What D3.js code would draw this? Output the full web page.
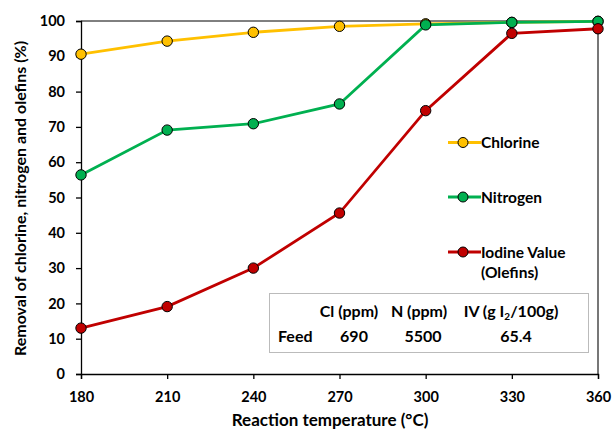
<!DOCTYPE html>
<html>
<head>
<meta charset="utf-8">
<script src="https://cdn.jsdelivr.net/npm/d3@7"></script>
<style>
  body { margin: 0; background: #fff; }
  svg text { font-family: Lato, "Open Sans", sans-serif; font-weight: bold; fill: #000; }
</style>
</head>
<body>
<svg id="chart"></svg>
<script>
const width = 615;
const height = 429;

// data
const temps = [180, 210, 240, 270, 300, 330, 360];
const chlorine = [90.6, 94.3, 96.8, 98.5, 99.2, 99.6, 99.9];
const nitrogen = [56.4, 69.1, 70.9, 76.5, 98.9, 99.6, 99.9];
const iodine = [13.0, 19.1, 30.0, 45.6, 74.6, 96.5, 97.8];
const seriesNames = ["Chlorine", "Nitrogen", "Iodine Value"];
const seriesColors = ["#FFC000", "#00B050", "#C00000"];
const xTicks = [180, 210, 240, 270, 300, 330, 360];
const yTicks = [0, 10, 20, 30, 40, 50, 60, 70, 80, 90, 100];
const tableHead = ["Cl (ppm)", "N (ppm)", "IV (g I2/100g)"];
const tableFeed = ["690", "5500", "65.4"];

const m = { left: 81, right: 598, top: 21, bottom: 374 };

var svg = d3.select("#chart").attr("width", width).attr("height", height);

var xScale = d3.scaleLinear().domain([180, 360]).range([m.left, m.right]);
var yScale = d3.scaleLinear().domain([0, 100]).range([m.bottom, m.top]);

// plot frame (top black, right grey)
svg.append("line").attr("x1", m.left).attr("x2", m.right).attr("y1", m.top).attr("y2", m.top)
    .attr("stroke", "#000").attr("stroke-width", 1);
svg.append("line").attr("x1", m.right).attr("x2", m.right).attr("y1", m.top).attr("y2", m.bottom)
    .attr("stroke", "#777").attr("stroke-width", 2);

// axes
var xAxis = svg.append("g").attr("transform", `translate(0,${m.bottom})`)
    .call(d3.axisBottom(xScale).tickValues(xTicks).tickSize(5).tickPadding(13).tickFormat(d3.format("d")));
var yAxis = svg.append("g").attr("transform", `translate(${m.left},0)`)
    .call(d3.axisLeft(yScale).tickValues(yTicks).tickSize(5).tickPadding(11));
[xAxis, yAxis].forEach(function(a) {
    a.select(".domain").attr("stroke", "#000").attr("stroke-width", 1.3);
    a.selectAll(".tick line").attr("stroke", "#000").attr("stroke-width", 1.3);
    a.selectAll(".tick text").style("font-size", "14.5px").attr("fill", "#000");
});

// axis titles
svg.append("text")
    .attr("transform", `translate(26,${(m.top + m.bottom) / 2 + 1}) rotate(-90)`)
    .attr("text-anchor", "middle")
    .style("font-size", "16px")
    .text("Removal of chlorine, nitrogen and olefins (%)");
svg.append("text")
    .attr("x", 330).attr("y", 426)
    .attr("text-anchor", "middle")
    .style("font-size", "17px")
    .text("Reaction temperature (°C)");

// table box
var box = svg.append("g");
box.append("rect").attr("x", 269.5).attr("y", 293.5).attr("width", 319).attr("height", 59)
    .attr("fill", "#fff").attr("stroke", "#bbb").attr("stroke-width", 1);
var colX = [349, 419, 511];
var feedX = [354, 423, 516];
tableHead.forEach(function(h, i) {
    var t = box.append("text").attr("x", colX[i]).attr("y", 317).attr("text-anchor", "middle")
        .style("font-size", "16px");
    if (h.indexOf("I2") >= 0) {
        var parts = h.split("I2");
        t.append("tspan").text(parts[0] + "I");
        t.append("tspan").attr("baseline-shift", "-25%").style("font-size", "10px").text("2");
        t.append("tspan").text(parts[1]);
    } else {
        t.text(h);
    }
});
box.append("text").attr("x", 278).attr("y", 342).style("font-size", "16px").text("Feed");
tableFeed.forEach(function(v, i) {
    box.append("text").attr("x", feedX[i]).attr("y", 342).attr("text-anchor", "middle")
        .style("font-size", "16px").text(v);
});

// series
var series = [chlorine, nitrogen, iodine];
var lineGen = d3.line().x((d, i) => xScale(temps[i])).y(d => yScale(d));

series.forEach(function(vals, s) {
    var g = svg.append("g");
    g.append("path").datum(vals).attr("d", lineGen)
        .attr("fill", "none").attr("stroke", seriesColors[s]).attr("stroke-width", 2.8);
    g.selectAll("circle").data(vals).enter().append("circle")
        .attr("cx", (d, i) => xScale(temps[i]))
        .attr("cy", d => yScale(d))
        .attr("r", 5.2)
        .attr("fill", seriesColors[s])
        .attr("stroke", "#000").attr("stroke-width", 1);
});

// legend
var legendY = [142.5, 197, 252];
seriesNames.forEach(function(name, i) {
    var lg = svg.append("g").attr("transform", `translate(448,${legendY[i]})`);
    lg.append("line").attr("x1", 0).attr("x2", 33).attr("y1", 0).attr("y2", 0)
        .attr("stroke", seriesColors[i]).attr("stroke-width", 2.8);
    lg.append("circle").attr("cx", 15).attr("cy", 0).attr("r", 5)
        .attr("fill", seriesColors[i]).attr("stroke", "#000").attr("stroke-width", 1);
    lg.append("text").attr("x", 33).attr("y", 5.5).style("font-size", "15.5px").text(name);
    if (i === 2) {
        lg.append("text").attr("x", 33).attr("y", 25.5).style("font-size", "15.5px").text("(Olefins)");
    }
});
</script>
</body>
</html>
